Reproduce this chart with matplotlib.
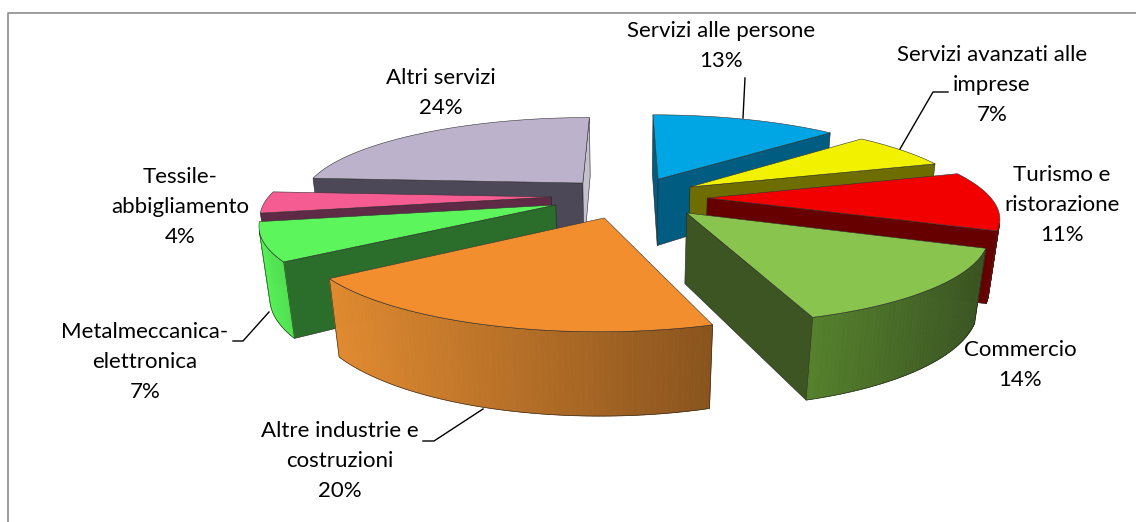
import numpy as np
import matplotlib
matplotlib.use("Agg")
import matplotlib.pyplot as plt
from matplotlib.collections import PolyCollection
from matplotlib.colors import to_rgb

# data, clockwise from 12 o'clock
categories = ["Servizi alle persone", "Servizi avanzati alle\nimprese", "Turismo e\nristorazione",
              "Commercio", "Altre industrie e\ncostruzioni", "Metalmeccanica-\nelettronica",
              "Tessile-\nabbigliamento", "Altri servizi"]
values = [13, 7, 11, 14, 20, 7, 4, 24]

# styling per slice: how far each slice is pulled out on the pie plane
pull_u = [0.122, 0.235, 0.29, 0.21, -0.07, -0.24, -0.26, -0.154]
pull_v = [-0.26, -0.16, -0.024, 0.15, 0.205, 0.058, -0.036, -0.21]
top_colors = ["#00A5E3", "#F2F200", "#F20000", "#88C44E", "#F28E2E", "#5CF55C", "#F55C92", "#BDB2CC"]
cut_start = ["#005C80", "#6E6E00", "#660000", "#3C5522", "#7A4A18", "#2B6E2B", "#5E2A45", "#4D4858"]
cut_end = ["#005C80", "#6E6E00", "#660000", "#3C5522", "#7A4A18", "#2B6E2B", "#5E2A45", "#C4C0CC"]
wall_left = ["#0080B0", "#B0B000", "#8B0000", "#55802C", "#E08A30", "#58F058", "#B04068", "#8F8A9A"]
wall_right = ["#005C80", "#8A8A00", "#A00000", "#3A5522", "#8A541E", "#50E050", "#B04068", "#C8C8D0"]
draw_order = [7, 6, 5, 4, 0, 1, 2, 3]
label_pos = [(721, 46), (992, 85), (1062, 205), (1020, 365), (340, 461), (145, 362), (180, 207), (441, 93)]

# camera
CX, CY = 625, 200
A, a, H = 285, 84, 71
D, K = 5.2, 0.15


def project(u, v, z):
    s = D / (D - v + K * z)
    return CX + A * u * s, CY + (a * v + H * z) * s


def area(pts):
    x, y = np.array(pts).T
    return np.sum(x * np.roll(y, -1) - np.roll(x, -1) * y)


fig = plt.figure(figsize=(11.36, 5.22), dpi=100)
ax = fig.add_axes([0, 0, 1, 1])
ax.set_xlim(0, 1136)
ax.set_ylim(522, 0)
ax.axis("off")

# chart frame, only top and left fall inside the picture
ax.plot([8, 8, 1136], [522, 13, 13], color="#8C8C8C", lw=1.2, zorder=1)

edges = np.cumsum([0] + values) / sum(values) * 2 * np.pi
z = 2
for i in draw_order:
    ou, ov = pull_u[i], pull_v[i]
    th = np.linspace(edges[i], edges[i + 1], max(values[i] * 4, 12))
    us = ou + np.sin(th)
    vs = ov - np.cos(th)
    top = [project(ou, ov, 0)] + [project(u, v, 0) for u, v in zip(us, vs)]

    # straight cut faces, clockwise along the top outline
    faces = [([project(ou, ov, 0), project(us[0], vs[0], 0), project(us[0], vs[0], 1), project(ou, ov, 1)], cut_start[i]),
             ([project(us[-1], vs[-1], 0), project(ou, ov, 0), project(ou, ov, 1), project(us[-1], vs[-1], 1)], cut_end[i])]
    for quad, col in faces:
        if area(quad) < 0:
            ax.fill(*zip(*quad), color=col, ec="#222222", lw=0.4, zorder=z)
    z += 1

    # rounded outer wall, shaded across the slice
    quads = []
    for k in range(len(th) - 1):
        quad = [project(us[k], vs[k], 0), project(us[k + 1], vs[k + 1], 0),
                project(us[k + 1], vs[k + 1], 1), project(us[k], vs[k], 1)]
        if area(quad) < 0:
            quads.append(quad)
    if quads:
        xs = np.array([q[0][0] for q in quads])
        t = (xs - xs.min()) / max(xs.max() - xs.min(), 1)
        c0, c1 = np.array(to_rgb(wall_left[i])), np.array(to_rgb(wall_right[i]))
        cols = [c0 + (c1 - c0) * f for f in t]
        ax.add_collection(PolyCollection(quads, facecolors=cols, edgecolors=cols, linewidths=0.6, zorder=z))
        outline = [q[0] for q in quads] + [quads[-1][1], quads[-1][2]] + [q[3] for q in quads[::-1]]
        ax.fill(*zip(*outline), fc="none", ec="#222222", lw=0.4, zorder=z)
    z += 1

    ax.fill(*zip(*top), color=top_colors[i], ec="#333333", lw=0.4, zorder=z)
    z += 1

# leader lines
leaders = [([745, 743], [78, 118]), ([948, 933, 900], [92, 92, 149]),
           ([233, 243, 269], [341, 341, 312]), ([423, 434, 483], [441, 441, 409])]
for lx, ly in leaders:
    ax.plot(lx, ly, color="black", lw=1, zorder=z)

for name, val, (tx, ty) in zip(categories, values, label_pos):
    ax.text(tx, ty, f"{name}\n{val}%", ha="center", va="center", family="Lato",
            fontsize=16, linespacing=1.63, color="black", zorder=z + 1)

fig.savefig("out.png", dpi=100)
